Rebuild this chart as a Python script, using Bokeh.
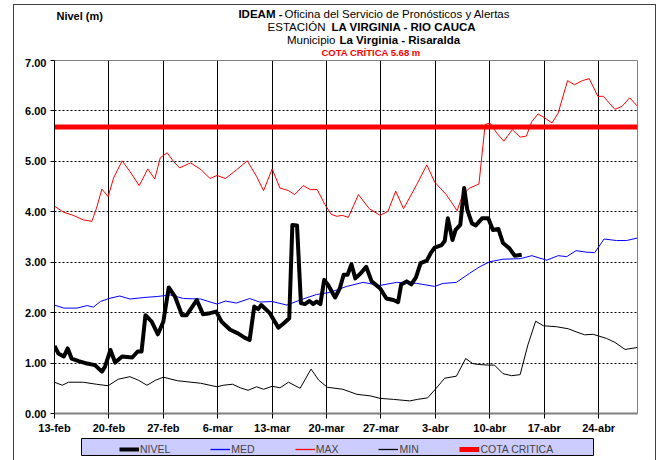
from bokeh.plotting import figure
from bokeh.layouts import column, row
from bokeh.models import (Range1d, FixedTicker, NumeralTickFormatter, Legend, LegendItem, Label,
                          Spacer)
from bokeh.embed import file_html
from bokeh.resources import INLINE

# ---------------- data (x = days since 13-feb) ----------------
tick_days = [0, 7, 14, 21, 28, 35, 42, 49, 56, 63, 70]
tick_labels = ["13-feb", "20-feb", "27-feb", "6-mar", "13-mar", "20-mar",
               "27-mar", "3-abr", "10-abr", "17-abr", "24-abr"]

nivel_x = [0, 0.5, 1.2, 1.7, 2.2, 3.1, 4.2, 5.2, 6.1, 6.5, 7.2, 7.8, 8.7, 10, 10.7, 11.2,
           11.7, 12.5, 13.3, 14, 14.7, 15.5, 16.4, 17, 18.3, 19.1, 20, 20.8, 21.5, 22.6,
           23.6, 24.5, 25.1, 25.7, 26.2, 26.6, 27.7, 28.8, 29.5, 30.2, 30.6, 31.2, 31.7,
           32.2, 32.8, 33.3, 33.7, 34.2, 34.7, 35.2, 36.1, 36.7, 37.2, 37.7, 38.2, 38.7,
           39.4, 40.1, 40.8, 41.9, 42.7, 43.6, 44.2, 44.6, 45.3, 45.9, 46.5, 47.1, 47.9,
           48.4, 48.9, 49.8, 50.2, 50.6, 51.2, 51.6, 52.2, 52.7, 53.1, 53.7, 54.2, 55,
           55.8, 56.4, 57.1, 57.7, 58.5, 59.2, 60.1]
nivel_y = [1.34, 1.19, 1.13, 1.29, 1.09, 1.04, 0.99, 0.96, 0.83, 0.93, 1.26, 1.01, 1.13, 1.11,
           1.23, 1.23, 1.95, 1.82, 1.57, 1.82, 2.50, 2.32, 1.95, 1.95, 2.25, 1.97, 1.99,
           2.02, 1.82, 1.66, 1.59, 1.50, 1.46, 2.12, 2.07, 2.15, 1.99, 1.70, 1.79, 1.89,
           3.74, 3.73, 2.19, 2.17, 2.23, 2.17, 2.22, 2.17, 2.65, 2.55, 2.30, 2.48, 2.75,
           2.75, 2.96, 2.68, 2.78, 2.91, 2.62, 2.48, 2.28, 2.25, 2.21, 2.56, 2.62, 2.56,
           2.70, 2.98, 3.03, 3.18, 3.29, 3.34, 3.42, 3.87, 3.44, 3.64, 3.74, 4.47, 4.04,
           3.77, 3.73, 3.87, 3.87, 3.64, 3.66, 3.38, 3.28, 3.13, 3.15]

med_x = [0, 1.2, 2.9, 4.2, 5, 5.9, 7, 8.4, 9.7, 11.5, 13.2, 14.9, 16.6, 18.8, 20.9, 22, 23.4,
         25.1, 26.4, 28, 29.9, 31.6, 33.7, 35.4, 37.6, 39.7, 41.9, 44, 46.6, 48.9, 50, 51.7,
         53.4, 54.7, 56, 57.7, 59.9, 61.4, 63.3, 64.8, 65.9, 67.1, 68.4, 69.5, 70.7, 72.3,
         73.6, 75]
med_y = [2.15, 2.09, 2.09, 2.14, 2.11, 2.22, 2.28, 2.33, 2.27, 2.30, 2.32, 2.35, 2.28, 2.27,
         2.17, 2.23, 2.19, 2.28, 2.21, 2.22, 2.15, 2.25, 2.36, 2.40, 2.52, 2.60, 2.54, 2.60,
         2.58, 2.52, 2.58, 2.60, 2.78, 2.91, 3.01, 3.06, 3.07, 3.13, 3.04, 3.13, 3.11, 3.23,
         3.20, 3.19, 3.46, 3.43, 3.43, 3.48]

max_x = [0, 1.2, 2.4, 3.7, 4.8, 5.4, 6.1, 6.9, 7.6, 8.7, 9.7, 10.9, 12, 12.9, 13.6, 14.5,
         15.3, 16.1, 17.5, 18.9, 20, 20.9, 22, 23.4, 24.8, 26, 26.9, 28, 29, 30.1, 30.9, 32,
         32.9, 33.8, 34.8, 35.6, 36.3, 37, 37.8, 39.1, 40.5, 41.9, 42.9, 43.9, 44.9, 46.6,
         47.9, 48.9, 50.4, 51.8, 52.5, 53.4, 54.6, 55.4, 56, 56.9, 57.8, 58.9, 59.9, 60.7,
         61.4, 62.2, 63.1, 64, 64.8, 66, 66.9, 67.9, 68.8, 69.9, 70.6, 72.1, 73, 74, 75]
max_y = [4.11, 3.99, 3.93, 3.84, 3.81, 4.07, 4.45, 4.30, 4.67, 5.01, 4.80, 4.52, 4.85, 4.65,
         5.07, 5.17, 5.00, 4.87, 4.97, 4.83, 4.66, 4.72, 4.66, 4.83, 5.01, 4.70, 4.42, 4.85,
         4.47, 4.42, 4.34, 4.52, 4.44, 4.44, 4.14, 3.95, 3.91, 3.93, 3.89, 4.34, 4.06, 3.93,
         4.01, 4.41, 4.06, 4.54, 4.93, 4.59, 4.34, 4.02, 4.34, 4.47, 4.55, 5.73, 5.76, 5.56,
         5.40, 5.63, 5.48, 5.50, 5.79, 5.94, 5.86, 5.76, 5.96, 6.60, 6.52, 6.60, 6.64, 6.29,
         6.29, 6.03, 6.09, 6.26, 6.09]

min_x = [0, 1, 1.8, 3.7, 5.4, 6.9, 8.2, 9.7, 10.8, 11.9, 13, 14, 15.8, 18.8, 20.9, 21.7, 22.9,
         23.9, 24.9, 26, 26.9, 28, 29, 30.1, 31.6, 33, 34, 35.1, 37.1, 38.9, 40.6, 41.9, 43.6,
         45.7, 46.7, 48, 49.1, 50.2, 51.7, 52.9, 53.8, 54.7, 55.8, 56.6, 57.7, 58.8, 59.9,
         60.9, 61.9, 62.9, 64.6, 66.1, 67.1, 68.2, 69.3, 71, 72.1, 73.4, 75]
min_y = [0.62, 0.56, 0.62, 0.62, 0.58, 0.55, 0.68, 0.73, 0.66, 0.56, 0.66, 0.72, 0.65, 0.60,
         0.53, 0.56, 0.58, 0.51, 0.46, 0.53, 0.48, 0.54, 0.51, 0.62, 0.50, 0.88, 0.66, 0.52,
         0.48, 0.38, 0.35, 0.30, 0.28, 0.25, 0.28, 0.31, 0.50, 0.70, 0.74, 1.09, 0.99, 0.97,
         0.96, 0.96, 0.79, 0.75, 0.77, 1.36, 1.83, 1.74, 1.72, 1.68, 1.62, 1.56, 1.57, 1.49,
         1.41, 1.27, 1.31]

cota_x = [0, 75]
cota_y = [5.68, 5.68]

FONT = "Liberation Sans"
OX, OY = 14, 5          # page position of the chart-area box (inside its border)
W = 655 - OX            # inner width up to the right border
NAN = float("nan")

# ---------------- title block ----------------
TH = 58 - OY
t = figure(width=W, height=TH, output_backend="svg", toolbar_location=None,
           x_range=Range1d(OX, OX + W), y_range=Range1d(OY + TH, OY),
           x_axis_type=None, y_axis_type=None, frame_align=False,
           min_border_left=0, min_border_right=0, min_border_top=0, min_border_bottom=0)
t.grid.visible = False
t.outline_line_color = None
t.background_fill_color = "white"
t.border_fill_color = "white"

def lab(px, py, text, size, style="normal", color="black", align="left"):
    t.add_layout(Label(x=px, y=py, text=text, text_font=FONT, text_font_size=size,
                       text_font_style=style, text_color=color, text_align=align,
                       text_baseline="middle"))

lab(56, 15, "Nivel (m)", "11px", "bold")
lab(282, 13, "IDEAM -", "11.5px", "bold", align="right")
lab(284, 13, "Oficina del Servicio de Pronósticos y Alertas", "11.5px")
lab(325, 26, "ESTACIÓN", "11.5px", align="right")
lab(331, 26, "LA VIRGINIA - RIO CAUCA", "11.5px", "bold")
lab(335, 39, "Municipio", "11.5px", align="right")
lab(339, 39, "La Virginia - Risaralda", "11.5px", "bold")
lab(372, 52, "COTA CRÍTICA  5.68 m", "9.5px", "bold", "#FF0000", align="center")

# ---------------- main chart ----------------
MH = 379
p = figure(width=W, height=MH, output_backend="svg", toolbar_location=None,
           x_range=Range1d(0, 75), y_range=Range1d(0, 7), frame_align=False,
           min_border_left=54 - OX, min_border_right=OX + W - 637,
           min_border_top=2, min_border_bottom=24)
p.background_fill_color = "white"
p.border_fill_color = "white"
p.outline_line_color = "#808080"

p.xaxis.ticker = FixedTicker(ticks=tick_days)
p.xaxis.major_label_overrides = {d: l for d, l in zip(tick_days, tick_labels)}
p.yaxis.ticker = FixedTicker(ticks=[0, 1, 2, 3, 4, 5, 6, 7])
p.yaxis.formatter = NumeralTickFormatter(format="0.00")
for ax in (p.xaxis[0], p.yaxis[0]):
    ax.major_label_text_font = FONT
    ax.major_label_text_font_size = "11px"
    ax.major_label_text_font_style = "bold"
    ax.major_label_text_color = "black"
    ax.minor_tick_line_color = None
    ax.major_tick_in = 0
    ax.major_tick_line_color = "black"
p.xaxis.axis_line_color = "#808080"
p.xaxis.axis_line_width = 2
p.xaxis.major_tick_out = 5
p.xaxis.major_label_standoff = 3
p.yaxis.axis_line_color = "black"
p.yaxis.major_tick_out = 4
p.yaxis.major_label_standoff = 4

p.xgrid.grid_line_color = "black"
p.xgrid.grid_line_width = 1
p.ygrid.grid_line_color = "black"
p.ygrid.grid_line_dash = "2 2"
p.ygrid.grid_line_width = 1

p.line(min_x, min_y, line_color="black", line_width=1)
p.line(med_x, med_y, line_color="#0000FF", line_width=1)
p.line(max_x, max_y, line_color="#FF0000", line_width=1)
p.line(cota_x, cota_y, line_color="#FF0000", line_width=5)
p.line(nivel_x, nivel_y, line_color="black", line_width=4, line_join="round")

# ---------------- legend block ----------------
LH = 23
lg = figure(width=W, height=LH, output_backend="svg", toolbar_location=None,
            x_range=Range1d(0, 1), y_range=Range1d(0, 1),
            x_axis_type=None, y_axis_type=None, frame_align=False,
            min_border_left=81 - OX, min_border_right=OX + W - 593,
            min_border_top=1, min_border_bottom=5)
lg.grid.visible = False
lg.background_fill_color = "#CCCCFF"
lg.border_fill_color = "white"
lg.outline_line_color = "black"
lg.outline_line_width = 1

styles = [("NIVEL", "#000000", 4), ("MED", "#0000FF", 1.3), ("MAX", "#FF0000", 1.3),
          ("MIN", "#000000", 1.3), ("COTA CRITICA", "#FF0000", 5)]
items = []
for name, col, wdt in styles:
    r = lg.line(x=[NAN, NAN], y=[NAN, NAN], line_color=col, line_width=wdt)
    items.append(LegendItem(label=name, renderers=[r]))
legend = Legend(items=items, orientation="horizontal", location=(38, 0),
                padding=2, spacing=40, margin=0, label_standoff=1,
                glyph_width=20, glyph_height=12, label_height=12, label_width=20,
                label_text_font=FONT, label_text_font_size="10.5px",
                background_fill_alpha=0, border_line_color=None)
lg.add_layout(legend)

inner = column(t, p, lg, spacing=0,
               styles={"border-left": "1px solid #404040", "border-top": "1px solid #404040",
                       "border-right": "1px solid #404040"})
layout = column(Spacer(height=OY - 1, width=10),
                row(Spacer(width=OX - 1, height=10), inner, spacing=0), spacing=0)
open("out.html", "w").write(file_html(layout, INLINE))
